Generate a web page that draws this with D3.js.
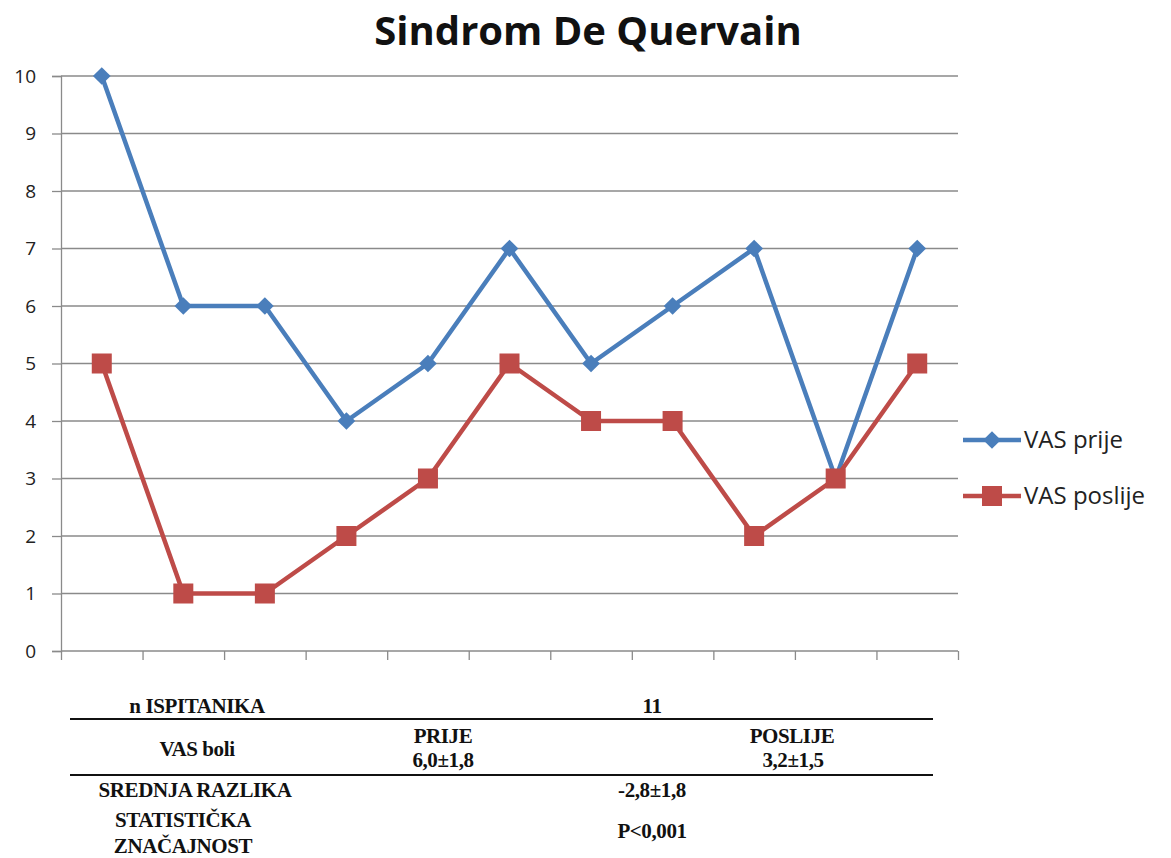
<!doctype html>
<html lang="hr">
<head>
<meta charset="utf-8">
<title>Sindrom De Quervain</title>
<script src="https://cdn.jsdelivr.net/npm/d3@7"></script>
<style>
  body { margin: 0; background: #fff; }
  svg { display: block; }
</style>
</head>
<body>
<script>
// data
var patients = [1, 2, 3, 4, 5, 6, 7, 8, 9, 10, 11];
var vasPrije = [10, 6, 6, 4, 5, 7, 5, 6, 7, 3, 7];
var vasPoslije = [5, 1, 1, 2, 3, 5, 4, 4, 2, 3, 5];
var seriesNames = ["VAS prije", "VAS poslije"];
var yTicks = [0, 1, 2, 3, 4, 5, 6, 7, 8, 9, 10];

// summary table under the chart
var tableRows = [
    ["n ISPITANIKA", "11"],
    ["VAS boli", "PRIJE", "6,0±1,8", "POSLIJE", "3,2±1,5"],
    ["SREDNJA RAZLIKA", "-2,8±1,8"],
    ["STATISTIČKA", "ZNAČAJNOST", "P<0,001"]
];

var W = 1171, H = 858;
var plot = {left: 61, right: 958, top: 76, bottom: 651};
var blue = "#4a7ebb", red = "#be4b48", grid = "#8a8a8a";

var svg = d3.select("body").append("svg")
    .attr("width", W)
    .attr("height", H);

var x = d3.scaleLinear()
    .domain([0, patients.length])
    .range([plot.left, plot.right]);

var y = d3.scaleLinear()
    .domain([0, 10])
    .range([plot.bottom, plot.top]);

// gridlines
svg.append("g")
   .selectAll("line")
   .data(yTicks.slice(1))
   .enter()
   .append("line")
   .attr("x1", plot.left)
   .attr("x2", plot.right)
   .attr("y1", d => y(d))
   .attr("y2", d => y(d))
   .attr("stroke", grid)
   .attr("stroke-width", 1.3);

// y axis
var yAxis = svg.append("g")
    .attr("transform", "translate(" + plot.left + ",0)")
    .call(d3.axisLeft(y).tickValues(yTicks).tickSize(9).tickPadding(16));
yAxis.select(".domain").attr("stroke", grid).attr("stroke-width", 1.3);
yAxis.selectAll(".tick line").attr("stroke", grid).attr("stroke-width", 1.3);
yAxis.selectAll("text")
     .attr("font-family", "'Open Sans', sans-serif")
     .attr("font-size", "19px")
     .attr("fill", "#222");

// x axis, ticks between the categories
var xAxis = svg.append("g")
    .attr("transform", "translate(0," + plot.bottom + ")")
    .call(d3.axisBottom(x).ticks(patients.length).tickSize(9).tickFormat(""));
xAxis.select(".domain").attr("stroke", grid).attr("stroke-width", 1.3)
     .attr("d", "M" + plot.left + ",0H" + plot.right);
xAxis.selectAll(".tick line").attr("stroke", grid).attr("stroke-width", 1.3);

var cx = (d, i) => x(i + 0.5);

var line = d3.line()
    .x((d, i) => cx(d, i))
    .y(d => y(d));

// VAS prije
svg.append("path")
   .datum(vasPrije)
   .attr("d", line)
   .attr("fill", "none")
   .attr("stroke", blue)
   .attr("stroke-width", 4.5)
   .attr("stroke-linejoin", "round");

// VAS poslije
svg.append("path")
   .datum(vasPoslije)
   .attr("d", line)
   .attr("fill", "none")
   .attr("stroke", red)
   .attr("stroke-width", 4.5)
   .attr("stroke-linejoin", "round");

var diamond = d3.symbol().type(d3.symbolDiamond2).size(200);

svg.selectAll("path.dia")
   .data(vasPrije)
   .enter()
   .append("path")
   .attr("class", "dia")
   .attr("d", diamond)
   .attr("transform", (d, i) => "translate(" + cx(d, i) + "," + y(d) + ")")
   .attr("fill", blue);

svg.selectAll("rect.sq")
   .data(vasPoslije)
   .enter()
   .append("rect")
   .attr("class", "sq")
   .attr("x", (d, i) => cx(d, i) - 10)
   .attr("y", d => y(d) - 10)
   .attr("width", 20)
   .attr("height", 20)
   .attr("fill", red);

// title
svg.append("text")
   .text("Sindrom De Quervain")
   .attr("x", 588)
   .attr("y", 45)
   .attr("text-anchor", "middle")
   .attr("font-family", "'Open Sans', sans-serif")
   .attr("font-weight", "bold")
   .attr("font-size", "40px")
   .attr("fill", "#111");

// legend
var legend = svg.selectAll("g.leg")
    .data(seriesNames)
    .enter()
    .append("g")
    .attr("class", "leg")
    .attr("transform", (d, i) => "translate(963," + (440 + i * 56) + ")");

legend.append("line")
      .attr("x1", 0).attr("x2", 58)
      .attr("stroke", (d, i) => i ? red : blue)
      .attr("stroke-width", 4.5);

legend.filter((d, i) => i == 0)
      .append("path")
      .attr("d", diamond)
      .attr("transform", "translate(29,0)")
      .attr("fill", blue);

legend.filter((d, i) => i == 1)
      .append("rect")
      .attr("x", 19).attr("y", -10)
      .attr("width", 20).attr("height", 20)
      .attr("fill", red);

legend.append("text")
      .text(d => d)
      .attr("x", 61)
      .attr("y", 8)
      .attr("font-family", "'Open Sans', sans-serif")
      .attr("font-size", "24px")
      .attr("fill", "#222");

// table
var tbl = svg.append("g")
    .attr("font-family", "'Liberation Serif', 'Times New Roman', serif")
    .attr("font-weight", "bold")
    .attr("font-size", "21px")
    .attr("letter-spacing", "-0.4px")
    .attr("fill", "#111")
    .attr("text-anchor", "middle");

var cells = [
    {t: tableRows[0][0], x: 197, y: 713},
    {t: tableRows[0][1], x: 652, y: 713},
    {t: tableRows[1][0], x: 197, y: 756},
    {t: tableRows[1][1], x: 443, y: 743},
    {t: tableRows[1][2], x: 443, y: 767},
    {t: tableRows[1][3], x: 792, y: 743},
    {t: tableRows[1][4], x: 793, y: 767},
    {t: tableRows[2][0], x: 195, y: 797},
    {t: tableRows[2][1], x: 652, y: 797},
    {t: tableRows[3][0], x: 183, y: 827},
    {t: tableRows[3][1], x: 183, y: 853},
    {t: tableRows[3][2], x: 652, y: 838}
];

tbl.selectAll("text")
   .data(cells)
   .enter()
   .append("text")
   .text(d => d.t)
   .attr("x", d => d.x)
   .attr("y", d => d.y);

tbl.selectAll("line")
   .data([719, 775])
   .enter()
   .append("line")
   .attr("x1", 70)
   .attr("x2", 933)
   .attr("y1", d => d)
   .attr("y2", d => d)
   .attr("stroke", "#111")
   .attr("stroke-width", 2);
</script>
</body>
</html>
